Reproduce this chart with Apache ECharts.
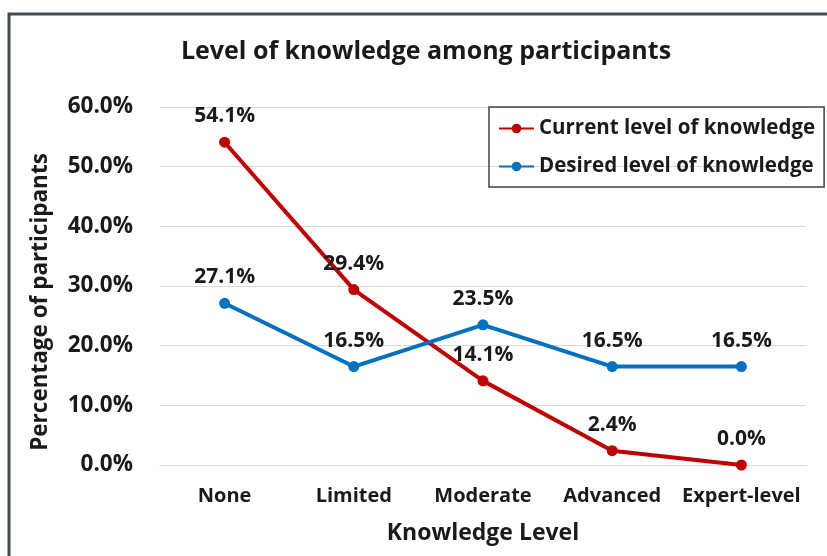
<!DOCTYPE html>
<html>
<head>
<meta charset="utf-8">
<script src="https://cdn.jsdelivr.net/npm/echarts@6/dist/echarts.min.js"></script>
<style>
  html, body { margin: 0; padding: 0; background: #fff; }
  #chart { width: 827px; height: 556px; }
</style>
</head>
<body>
<div id="chart"></div>
<script>
var levels = ["None", "Limited", "Moderate", "Advanced", "Expert-level"];
var current = [54.1, 29.4, 14.1, 2.4, 0.0];
var desired = [27.1, 16.5, 23.5, 16.5, 16.5];
var yTicks = { min: 0, max: 60, step: 10 };

var font = "Open Sans";
var chart = echarts.init(document.getElementById("chart"));

function lineSeries(name, data, color) {
  return {
    name: name,
    type: "line",
    data: data,
    symbol: "circle",
    symbolSize: 11,
    lineStyle: { width: 4, color: color },
    itemStyle: { color: color },
    label: {
      show: true,
      position: "top",
      distance: 10,
      fontFamily: font,
      fontWeight: "bold",
      fontSize: 21,
      color: "#1a1a1a",
      formatter: function (p) { return p.value.toFixed(1) + "%"; }
    }
  };
}

var option = {
  backgroundColor: "#fff",
  animation: false,
  graphic: [{
    type: "rect",
    shape: { x: 9, y: 14, width: 840, height: 560 },
    style: { fill: "none", stroke: "#404a58", lineWidth: 3 },
    z: -1
  }],
  title: {
    text: "Level of knowledge among participants",
    left: 421,
    top: 34,
    textAlign: "center",
    textStyle: { fontFamily: font, fontWeight: "bold", fontSize: 25, color: "#1a1a1a" }
  },
  legend: {
    orient: "vertical",
    left: 489,
    top: 107,
    itemWidth: 35,
    itemHeight: 12,
    itemGap: 17,
    padding: [11, 9, 10, 9],
    borderColor: "#404040",
    borderWidth: 1.5,
    textStyle: { fontFamily: font, fontWeight: "bold", fontSize: 20.5, color: "#1a1a1a" }
  },
  grid: { left: 160, right: 21, top: 107, bottom: 91 },
  xAxis: {
    type: "category",
    data: levels,
    name: "Knowledge Level",
    nameLocation: "middle",
    nameGap: 57,
    nameTextStyle: { fontFamily: font, fontWeight: "bold", fontSize: 23, color: "#1a1a1a" },
    axisLine: { lineStyle: { color: "#d9d9d9", width: 1 } },
    axisTick: { show: false },
    axisLabel: {
      interval: 0, hideOverlap: false,
      margin: 21, fontFamily: font, fontWeight: "bold", fontSize: 20, color: "#1a1a1a"
    }
  },
  yAxis: {
    type: "value",
    min: yTicks.min,
    max: yTicks.max,
    interval: yTicks.step,
    name: "Percentage of participants",
    nameLocation: "middle",
    nameGap: 108,
    nameTextStyle: {
      fontFamily: font, fontWeight: "bold", fontSize: 22.5, color: "#1a1a1a",
      padding: [0, 32, 0, 0]
    },
    axisLine: { show: false },
    axisTick: { show: false },
    splitLine: { lineStyle: { color: "#d9d9d9", width: 1 } },
    axisLabel: {
      margin: 27,
      fontFamily: font, fontWeight: "bold", fontSize: 22.5, color: "#1a1a1a",
      formatter: function (v) { return v.toFixed(1) + "%"; }
    }
  },
  series: [
    lineSeries("Current level of knowledge", current, "#c00000"),
    lineSeries("Desired level of knowledge", desired, "#0070c0")
  ]
};

chart.setOption(option);
</script>
</body>
</html>
